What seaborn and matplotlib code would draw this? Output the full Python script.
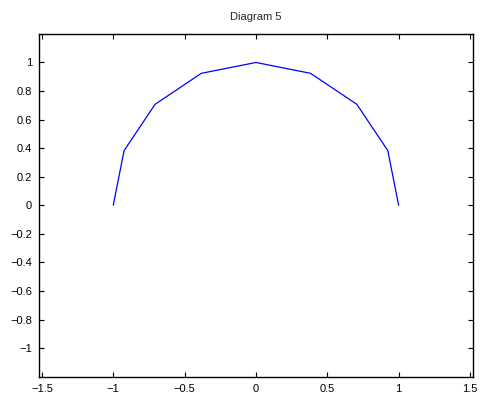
import numpy as np
import pandas as pd
import matplotlib
matplotlib.use('Agg')
import matplotlib.pyplot as plt
import seaborn as sns

sns.set_style('ticks')
plt.rcParams['font.family'] = ['Liberation Sans', 'DejaVu Sans']
plt.rcParams['axes.unicode_minus'] = True

x_vals = [-1.0, -0.924, -0.707, -0.383, 0.0, 0.383, 0.707, 0.924, 1.0]
y_vals = [0.0, 0.383, 0.707, 0.924, 1.0, 0.924, 0.707, 0.383, 0.0]
x_ticks = [-1.5, -1, -0.5, 0, 0.5, 1, 1.5]
y_ticks = [-1, -0.8, -0.6, -0.4, -0.2, 0, 0.2, 0.4, 0.6, 0.8, 1]

df = pd.DataFrame({'x': x_vals, 'y': y_vals})

fig = plt.figure(figsize=(4.82, 3.99), dpi=100)
ax = fig.add_axes([0.081, 0.056, 0.9, 0.859])

sns.lineplot(data=df, x='x', y='y', sort=False, estimator=None,
             color='#0000ff', linewidth=0.9, ax=ax)

ax.set_xlim(-1.52, 1.52)
ax.set_ylim(-1.2, 1.2)
ax.set_xticks(x_ticks)
ax.set_xticklabels(['\u22121.5', '\u22121', '\u22120.5', '0', '0.5', '1', '1.5'])
ax.set_yticks(y_ticks)
ax.set_yticklabels(['\u22121', '\u22120.8', '\u22120.6', '\u22120.4', '\u22120.2', '0',
                    '0.2', '0.4', '0.6', '0.8', '1'])
ax.set_xlabel('')
ax.set_ylabel('')
ax.tick_params(direction='in', top=True, right=True, length=3.5, width=0.8,
               labelsize=8, colors='black', pad=5)
for s in ax.spines.values():
    s.set_color('black')
    s.set_linewidth(1.0)
ax.set_title('Diagram 5', fontsize=8, pad=10)

fig.savefig('out.png', dpi=100)
